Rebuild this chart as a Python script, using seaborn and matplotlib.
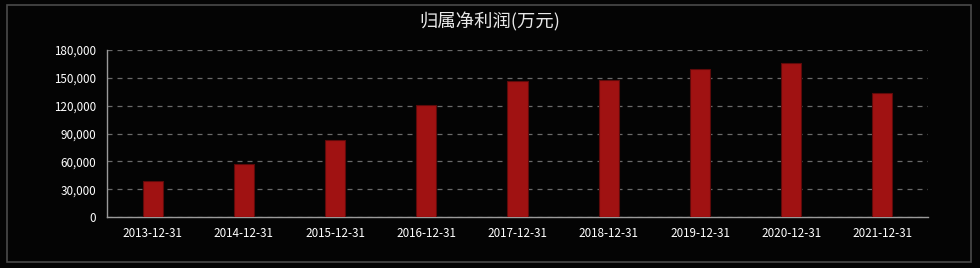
import matplotlib
matplotlib.use("Agg")
import matplotlib.pyplot as plt
import seaborn as sns
import pandas as pd
from matplotlib.ticker import FuncFormatter
from matplotlib.patches import Rectangle

dates = ["2013-12-31", "2014-12-31", "2015-12-31", "2016-12-31", "2017-12-31",
         "2018-12-31", "2019-12-31", "2020-12-31", "2021-12-31"]
profit = [38800, 57400, 83000, 120700, 146600, 147700, 159200, 166300, 133300]
yticks = [0, 30000, 60000, 90000, 120000, 150000, 180000]
title = "归属净利润(万元)"

sns.set_theme(style="dark")
plt.rcParams['font.family'] = ['Noto Sans CJK SC', 'DejaVu Sans']

df = pd.DataFrame({"date": dates, "profit": profit})

fig = plt.figure(figsize=(9.8, 2.68), dpi=100, facecolor="#040404")
ax = fig.add_axes([107/980, 1-217/268, (928-107)/980, 167/268])
ax.set_facecolor("#040404")

sns.barplot(data=df, x="date", y="profit", ax=ax, color="#a01212",
            width=0.22, saturation=1, edgecolor="#5e0a0a", linewidth=0.8, zorder=3)

ax.set_ylim(0, 180000)
ax.set_xlim(-0.5, len(dates) - 0.5)
ax.set_yticks(yticks)
ax.yaxis.set_major_formatter(FuncFormatter(lambda v, p: f"{int(v):,}"))
ax.grid(axis="y", color="#6a6a6a", linestyle=(0, (4, 4)), linewidth=0.9, zorder=0)
ax.grid(axis="x", visible=False)
ax.set_xlabel("")
ax.set_ylabel("")
for s in ["top", "right"]:
    ax.spines[s].set_visible(False)
for s in ["left", "bottom"]:
    ax.spines[s].set_visible(True)
    ax.spines[s].set_color("#9a9a9a")
    ax.spines[s].set_linewidth(1.0)
ax.tick_params(axis="both", colors="white", labelsize=8.4, length=0, pad=7)
ax.tick_params(axis="y", pad=8)

fig.text(0.5, 1-22/268, title, color="#e8e8e8", fontsize=13.2, ha="center", va="center")
fig.patches.append(Rectangle((6.5/980, 1-262/268), (971-6.5)/980, (262-4.5)/268,
                             transform=fig.transFigure, fill=False,
                             edgecolor="#4a4a4a", linewidth=1.2))

fig.savefig("out.png", dpi=100, facecolor=fig.get_facecolor())
